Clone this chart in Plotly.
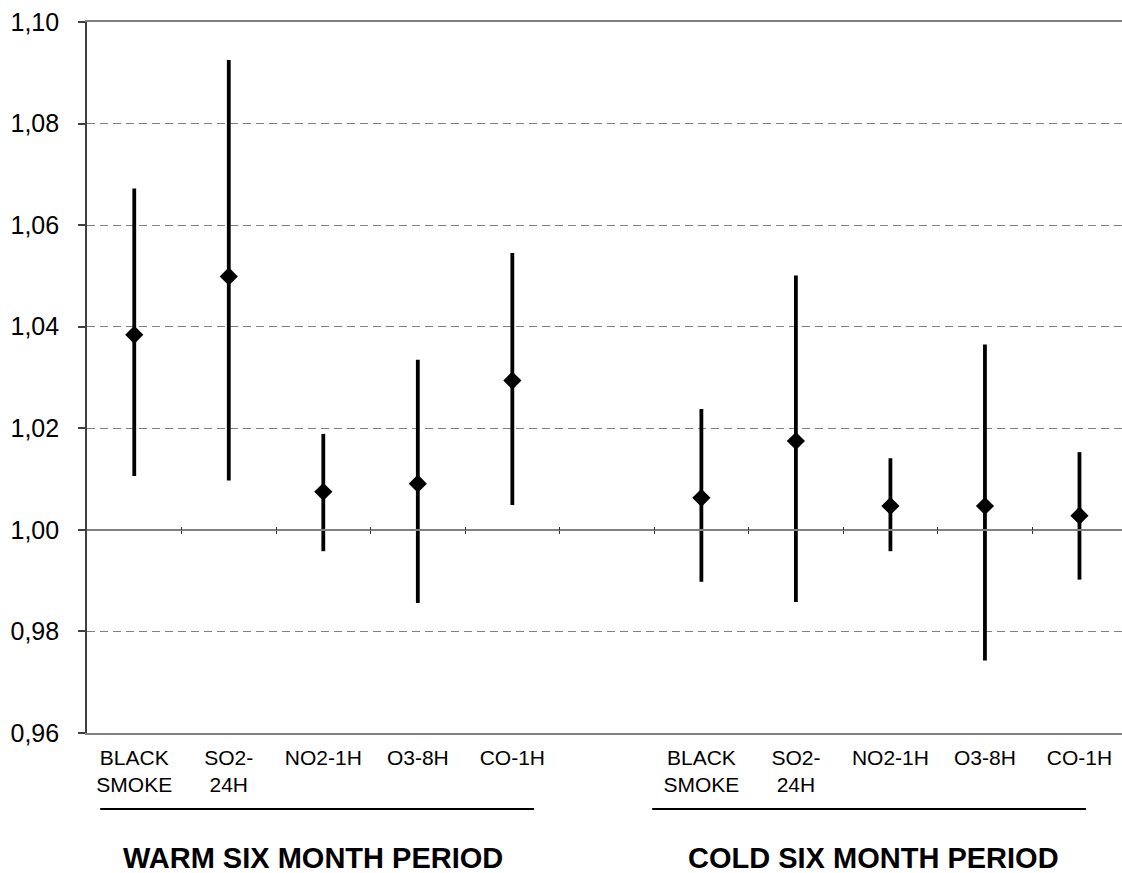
import plotly.graph_objects as go

# ---- data ----
pollutants = ["BLACK<br>SMOKE", "SO2-<br>24H", "NO2-1H", "O3-8H", "CO-1H"]
periods = ["WARM SIX MONTH PERIOD", "COLD SIX MONTH PERIOD"]

warm_est = [1.0384, 1.0499, 1.0075, 1.0091, 1.0294]
warm_low = [1.0106, 1.0097, 0.9958, 0.9856, 1.0049]
warm_high = [1.0672, 1.0925, 1.0189, 1.0335, 1.0545]

cold_est = [1.0063, 1.0175, 1.0047, 1.0047, 1.0028]
cold_low = [0.9898, 0.9858, 0.9958, 0.9743, 0.9902]
cold_high = [1.0238, 1.0501, 1.0141, 1.0365, 1.0153]

y_ticks = [0.96, 0.98, 1.00, 1.02, 1.04, 1.06, 1.08, 1.10]

# slot positions: warm 0..4, empty slot 5, cold 6..10
warm_x = list(range(len(pollutants)))
cold_x = [i + len(pollutants) + 1 for i in range(len(pollutants))]

FONT = "Liberation Sans, Arial, sans-serif"
XR = [-0.5, 10.45]

fig = go.Figure()


def add_group(xs, est, low, high):
    fig.add_trace(go.Scatter(
        x=xs, y=est, mode="markers",
        marker=dict(symbol="diamond", size=14, color="black",
                    line=dict(width=0)),
        error_y=dict(type="data", symmetric=False,
                     array=[h - e for h, e in zip(high, est)],
                     arrayminus=[e - l for e, l in zip(est, low)],
                     color="black", thickness=3.8, width=0),
        showlegend=False, hoverinfo="skip",
    ))


add_group(warm_x, warm_est, warm_low, warm_high)
add_group(cold_x, cold_est, cold_low, cold_high)

# invisible traces for the overlay axes (1.00 reference line with tick marks)
fig.add_trace(go.Scatter(x=[XR[0]], y=[1.0], xaxis="x2", mode="markers",
                         marker=dict(opacity=0), showlegend=False,
                         hoverinfo="skip"))
fig.add_trace(go.Scatter(x=[XR[0]], y=[1.0], xaxis="x3", mode="markers",
                         marker=dict(opacity=0), showlegend=False,
                         hoverinfo="skip"))

y0, y1 = y_ticks[0], y_ticks[-1]
ref_pos = (1.0 - y0) / (y1 - y0)
bounds = [i + 0.5 for i in range(10)]

fig.update_layout(
    width=1122, height=873,
    margin=dict(l=87, r=0, t=22, b=140),
    paper_bgcolor="white", plot_bgcolor="white",
    separators=",.",
    font=dict(family=FONT, color="black"),
    xaxis=dict(
        range=XR, showgrid=False, zeroline=False,
        tickmode="array",
        tickvals=warm_x + cold_x,
        ticktext=pollutants + pollutants,
        tickfont=dict(size=21, family=FONT, color="black"),
        ticks="", ticklabelstandoff=5,
        showline=True, linecolor="#808080", linewidth=1.6, mirror=True,
    ),
    xaxis2=dict(
        range=XR, overlaying="x", anchor="free", position=ref_pos,
        showgrid=False, zeroline=False, showticklabels=False,
        tickmode="array", tickvals=bounds,
        ticks="outside", ticklen=3, tickcolor="#303030", tickwidth=1.2,
        showline=True, linecolor="#808080", linewidth=1.6,
    ),
    xaxis3=dict(
        range=XR, overlaying="x", anchor="free", position=ref_pos,
        showgrid=False, zeroline=False, showticklabels=False,
        tickmode="array", tickvals=bounds,
        ticks="inside", ticklen=3, tickcolor="#303030", tickwidth=1.2,
        showline=False,
    ),
    yaxis=dict(
        range=[y0, y1], tickmode="array", tickvals=y_ticks,
        tickformat=".2f",
        tickfont=dict(size=25, family=FONT, color="black"),
        showgrid=True, gridcolor="#808080", gridwidth=1.4, griddash="8px,5px",
        zeroline=False,
        showline=True, linecolor="#404040", linewidth=1.6,
        ticks="outside", ticklen=7, tickcolor="#404040", tickwidth=1.6,
        ticklabelstandoff=14,
    ),
)

# group underlines and titles
groups = [(warm_x, -0.36, 4.23, 1.89), (cold_x, 5.48, 10.07, 7.82)]
for (xs, xa, xb, xc), name in zip(groups, periods):
    fig.add_shape(type="line", xref="x", yref="paper",
                  x0=xa, x1=xb, y0=-0.107, y1=-0.107,
                  line=dict(color="black", width=2))
    fig.add_annotation(x=xc, y=-0.176, xref="x", yref="paper",
                       text="<b>" + name + "</b>", showarrow=False,
                       xanchor="center", yanchor="middle",
                       font=dict(size=29, family=FONT, color="black"))

fig.write_html("out.html")
